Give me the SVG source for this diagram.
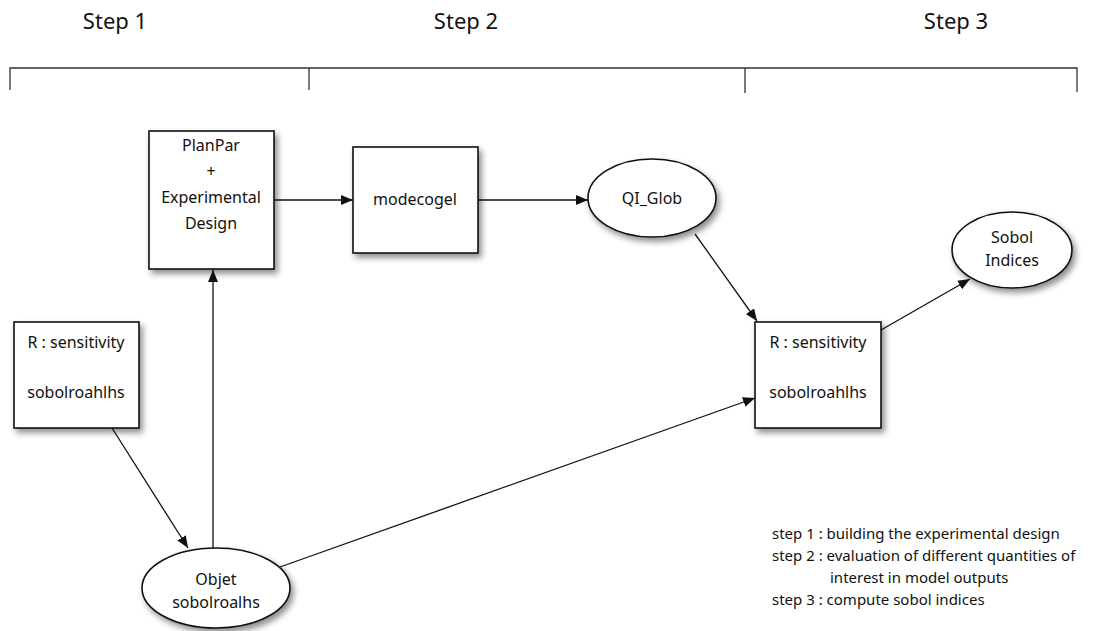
<svg xmlns="http://www.w3.org/2000/svg" width="1117" height="631" viewBox="0 0 1117 631">
<style>
text{font-family:"Noto Sans","Liberation Sans",sans-serif;fill:#111;text-anchor:middle}
.step{font-size:22px}
.lbl{font-size:16px}
.leg{font-size:15px;text-anchor:start}
.shape{fill:#fff;stroke:#111;stroke-width:1.6}
.conn{fill:none;stroke:#111;stroke-width:1.3}
.brk{fill:none;stroke:#333;stroke-width:1.3}
</style>
<defs>
<marker id="arr" viewBox="0 0 12 10" refX="12" refY="5" markerWidth="12" markerHeight="10" markerUnits="userSpaceOnUse" orient="auto">
<path d="M0,0 L12,5 L0,10 z" fill="#111"/>
</marker>
<filter id="sh" x="-20%" y="-20%" width="150%" height="150%">
<feDropShadow dx="3" dy="4" stdDeviation="3" flood-color="#000" flood-opacity="0.45"/>
</filter>
</defs>
<g id="header">
<text class="step" x="115" y="29">Step 1</text>
<text class="step" x="466" y="29">Step 2</text>
<text class="step" x="956" y="29">Step 3</text>
<path class="brk" d="M10,90 V68 H1077 V92 M309,68 V90 M745,68 V93"/>
</g>
<g id="connectors">
<path class="conn" d="M274,200 H353" marker-end="url(#arr)"/>
<path class="conn" d="M478,200 H588" marker-end="url(#arr)"/>
<path class="conn" d="M695,234 L757,321" marker-end="url(#arr)"/>
<path class="conn" d="M881,330 L970,279" marker-end="url(#arr)"/>
<path class="conn" d="M112,428 L188,548" marker-end="url(#arr)"/>
<path class="conn" d="M213,548 V270" marker-end="url(#arr)"/>
<path class="conn" d="M280,567 L755,398" marker-end="url(#arr)"/>
</g>
<g id="planpar">
<rect class="shape" filter="url(#sh)" x="149" y="131" width="125" height="138"/>
<text class="lbl" x="211" y="151">PlanPar</text>
<text class="lbl" x="211" y="177">+</text>
<text class="lbl" x="211" y="203">Experimental</text>
<text class="lbl" x="211" y="229">Design</text>
</g>
<g id="modecogel">
<rect class="shape" filter="url(#sh)" x="353" y="147" width="125" height="106"/>
<text class="lbl" x="415" y="205">modecogel</text>
</g>
<g id="qi_glob">
<ellipse class="shape" filter="url(#sh)" cx="652" cy="198" rx="64" ry="39"/>
<text class="lbl" x="652" y="204">QI_Glob</text>
</g>
<g id="sobol">
<ellipse class="shape" filter="url(#sh)" cx="1012" cy="250" rx="60" ry="38"/>
<text class="lbl" x="1012" y="243">Sobol</text>
<text class="lbl" x="1012" y="266">Indices</text>
</g>
<g id="rsens_right">
<rect class="shape" filter="url(#sh)" x="755" y="322" width="126" height="106"/>
<text class="lbl" x="818" y="348">R : sensitivity</text>
<text class="lbl" x="818" y="398">sobolroahlhs</text>
</g>
<g id="rsens_left">
<rect class="shape" filter="url(#sh)" x="14" y="322" width="125" height="106"/>
<text class="lbl" x="76" y="348">R : sensitivity</text>
<text class="lbl" x="76" y="398">sobolroahlhs</text>
</g>
<g id="objet">
<ellipse class="shape" filter="url(#sh)" cx="216" cy="588" rx="74" ry="40"/>
<text class="lbl" x="216" y="585">Objet</text>
<text class="lbl" x="216" y="608">sobolroalhs</text>
</g>
<g id="legend">
<text class="leg" x="772" y="539">step 1 : building the experimental design</text>
<text class="leg" x="772" y="561">step 2 : evaluation of different quantities of</text>
<text class="leg" x="830" y="583">interest in model outputs</text>
<text class="leg" x="772" y="605">step 3 : compute sobol indices</text>
</g>
</svg>
